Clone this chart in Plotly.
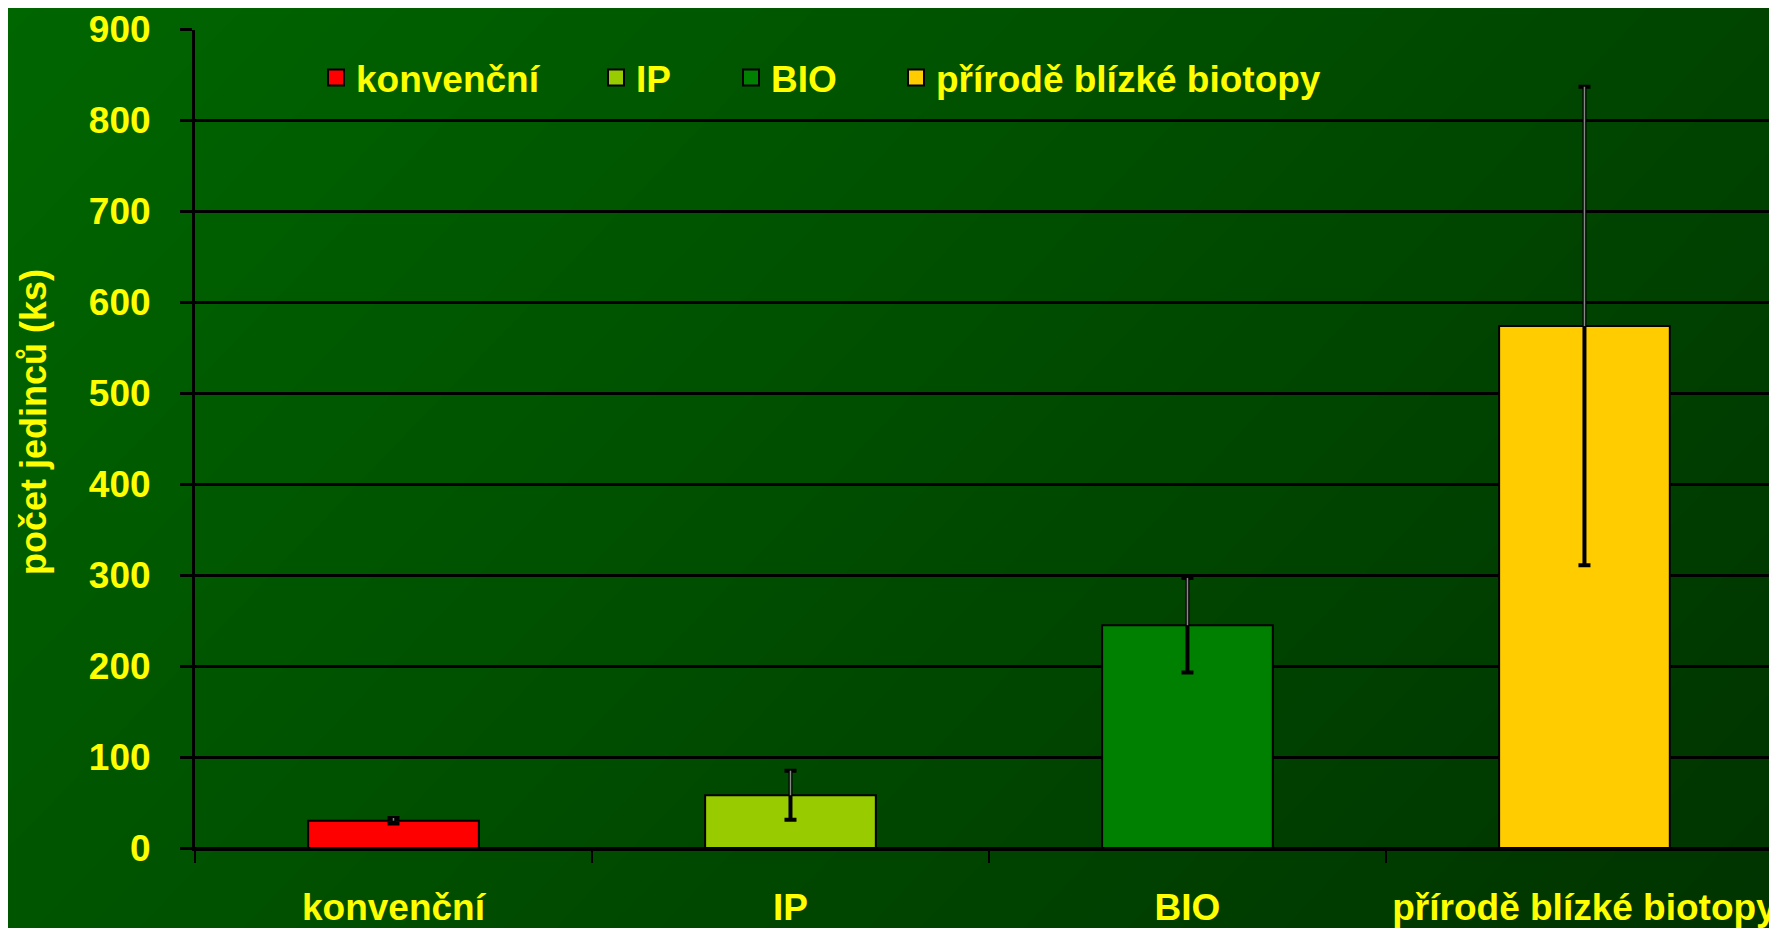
import plotly.graph_objects as go

# data
categories = ["konvenční", "IP", "BIO", "přírodě blízké biotopy"]
values = [30, 58, 245, 574]
errors = [3, 27, 52, 263]
colors = ["#FF0000", "#99CC00", "#008000", "#FFCC00"]
y_ticks = [0, 100, 200, 300, 400, 500, 600, 700, 800, 900]

# background gradient corners (green channel): bottom-left, bottom-right / top-left, top-right
bg_z = [[85, 51], [102, 68]]

# the page body adds an 8px margin, so the figure is drawn 8px smaller and shifted
OFF = 8
W, H = 1777 - OFF, 928 - OFF
YELLOW = "#FFFF00"
FONT = "Liberation Sans"


def px(x):
    return (x - OFF) / W


def py(y):
    return 1 - (y - OFF) / H


fig = go.Figure()

# gradient background on its own full-size axes
fig.add_trace(go.Heatmap(
    x=[0, 1], y=[0, 1], z=bg_z, zsmooth="best", zmin=51, zmax=102,
    colorscale=[[0, "rgb(0,51,0)"], [1, "rgb(0,102,0)"]],
    showscale=False, hoverinfo="skip", xaxis="x", yaxis="y"))

for i, cat in enumerate(categories):
    fig.add_trace(go.Bar(
        x=[cat], y=[values[i]], width=0.43, showlegend=False,
        marker=dict(color=colors[i], line=dict(color="black", width=2)),
        error_y=dict(type="data", array=[errors[i]], color="black", thickness=4, width=6),
        xaxis="x2", yaxis="y2"))
    # grey core of the error bar above the bar top
    fig.add_trace(go.Bar(
        x=[cat], y=[values[i]], width=0.43, showlegend=False, hoverinfo="skip",
        marker=dict(color="rgba(0,0,0,0)", line=dict(width=0)),
        error_y=dict(type="data", symmetric=False, array=[errors[i]], arrayminus=[0],
                     color="#888888", thickness=1.5, width=0),
        xaxis="x2", yaxis="y2"))

# legend entries, each in its own legend so spacing can follow the reference
legend_x = [316, 596, 731, 896]
for i, cat in enumerate(categories):
    name = "legend" if i == 0 else "legend%d" % (i + 1)
    fig.add_trace(go.Scatter(
        x=[None], y=[None], mode="markers", name=cat, legend=name,
        marker=dict(symbol="square", size=16, color=colors[i], line=dict(color="black", width=2)),
        xaxis="x2", yaxis="y2"))

legend_font = dict(family=FONT, size=37, color=YELLOW, weight="bold")
for i, lx in enumerate(legend_x):
    name = "legend" if i == 0 else "legend%d" % (i + 1)
    fig.update_layout({name: dict(
        x=px(lx), y=py(78), xanchor="left", yanchor="middle",
        orientation="h", bgcolor="rgba(0,0,0,0)", font=legend_font)})

fig.update_layout(
    width=W, height=H,
    margin=dict(l=0, r=0, t=0, b=0, pad=0, autoexpand=False),
    paper_bgcolor="#004d00",
    plot_bgcolor="rgba(0,0,0,0)",
    barmode="overlay",
    xaxis=dict(domain=[0, 1], range=[0, 1], visible=False, fixedrange=True),
    yaxis=dict(domain=[0, 1], range=[0, 1], visible=False, fixedrange=True),
    xaxis2=dict(
        domain=[px(195), 1], range=[-0.5, 3.485], type="category", automargin=False,
        anchor="y2", showgrid=False, showline=True, linecolor="black", linewidth=3,
        ticks="outside", tickson="boundaries", ticklen=12, tickwidth=2, tickcolor="black",
        ticklabelstandoff=25,
        tickfont=dict(family=FONT, size=37, color=YELLOW, weight="bold")),
    yaxis2=dict(
        domain=[py(848), py(29.5)], range=[0, 900], anchor="x2", automargin=False,
        tickvals=y_ticks, showgrid=True, gridcolor="black", gridwidth=3,
        zeroline=True, zerolinecolor="black", zerolinewidth=3,
        showline=True, linecolor="black", linewidth=3,
        ticks="outside", ticklen=12, tickwidth=3, tickcolor="black",
        ticklabelstandoff=22,
        tickfont=dict(family=FONT, size=37, color=YELLOW, weight="bold")),
    annotations=[dict(
        text="počet jedinců (ks)", textangle=-90, showarrow=False,
        x=px(34), y=py(422), xref="paper", yref="paper",
        xanchor="center", yanchor="middle",
        font=dict(family=FONT, size=36, color=YELLOW, weight="bold"))],
)

fig.write_html("out.html")
